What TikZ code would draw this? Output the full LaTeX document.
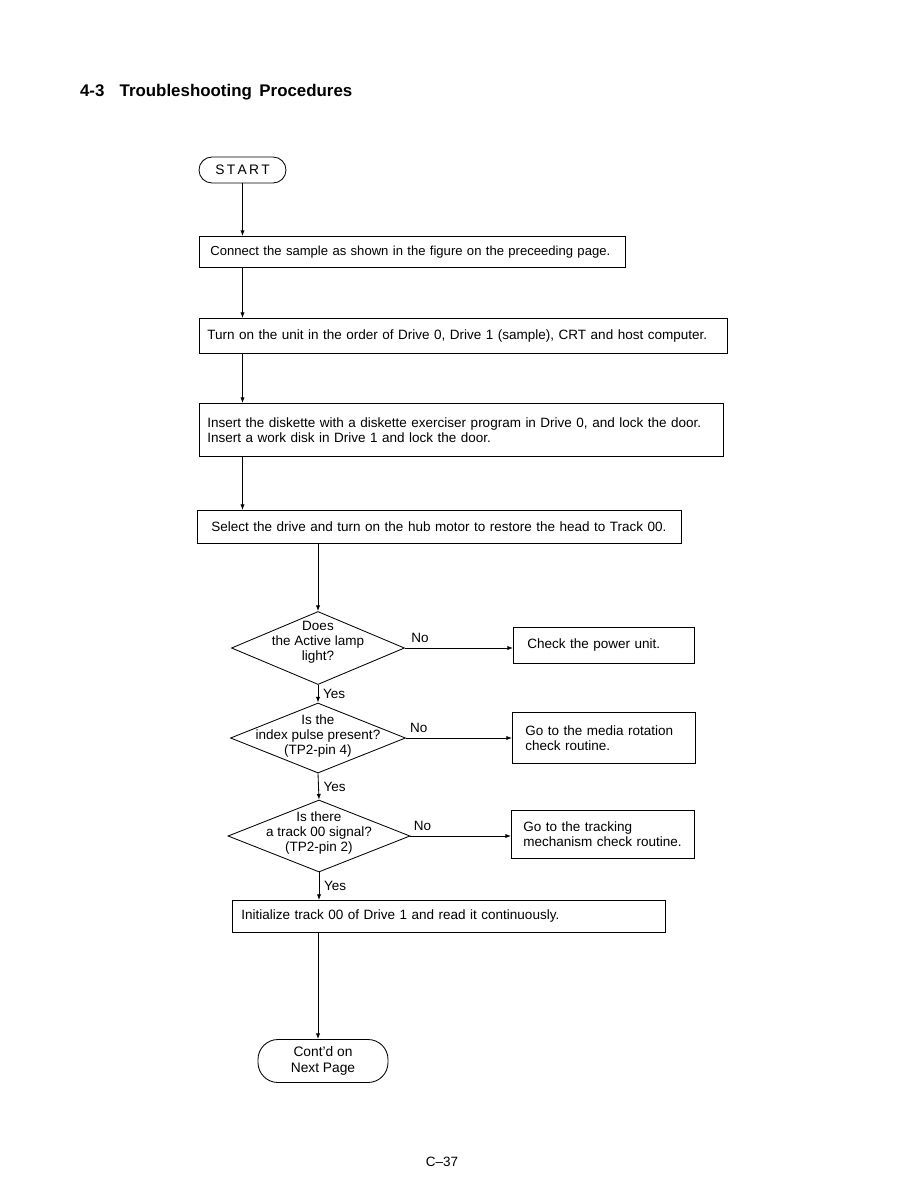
\documentclass[tikz,border=0pt]{standalone}
\usepackage{fontspec}
\setmainfont{Liberation Sans}
\usetikzlibrary{shapes.geometric,arrows.meta}

\tikzset{
  procbox/.style={draw, anchor=north west, align=left, inner ysep=0pt,
                  font=\fontsize{9.6}{10.8}\selectfont},
  termbox/.style={draw, align=center, font=\fontsize{9.8}{11.2}\selectfont},
  decision/.style={draw, diamond, inner sep=0pt},
  qtext/.style={align=center, font=\fontsize{9.6}{10.8}\selectfont},
  answer/.style={font=\fontsize{9.6}{10.8}\selectfont},
}

\begin{document}
\begin{tikzpicture}[x=0.025cm, y=-0.025cm, >={Latex[length=4pt,width=3pt]},
                    line width=0.6pt]
  \useasboundingbox (0,0) rectangle (899,1197);

  \node (title) [anchor=base west, font=\fontsize{12}{14}\bfseries\selectfont]
    at (75,96) {4-3\hspace{0.9em}Troubleshooting\hspace{0.45em}Procedures};

  \node (start) [termbox, rounded corners=0.325cm, minimum width=2.175cm,
                 minimum height=0.65cm] at (242.5,170) {S\,T\,A\,R\,T};

  \node (conn) [procbox, text width=10.1cm, inner xsep=0.275cm,
                minimum height=0.775cm, font=\fontsize{9.3}{10.8}\selectfont] at (199,236)
    {Connect the sample as shown in the figure on the preceeding page.};
  \node (turnon) [procbox, text width=12.8cm, inner xsep=0.2cm,
                  minimum height=0.875cm] at (199,318)
    {Turn on the unit in the order of Drive 0, Drive 1 (sample), CRT and host computer.};
  \node (insert) [procbox, text width=12.7cm, inner xsep=0.2cm,
                  minimum height=1.325cm] at (199,403)
    {Insert the diskette with a diskette exerciser program in Drive 0, and lock the door.\\
     Insert a work disk in Drive 1 and lock the door.};
  \node (select) [procbox, text width=11.4cm, inner xsep=0.35cm,
                  minimum height=0.825cm] at (197,510)
    {Select the drive and turn on the hub motor to restore the head to Track 00.};

  % decisions
  \node (d1) [decision, minimum width=4.325cm, minimum height=1.825cm] at (318,648) {};
  \node (q1) [qtext] at (318,642) {Does\\the Active lamp\\light?};
  \node (d2) [decision, minimum width=4.375cm, minimum height=1.75cm] at (318,738) {};
  \node (q2) [qtext] at (318,736) {Is the\\index pulse present?\\(TP2-pin 4)};
  \node (d3) [decision, minimum width=4.55cm, minimum height=1.8cm] at (319,836) {};
  \node (q3) [qtext] at (319,833) {Is there\\a track 00 signal?\\(TP2-pin 2)};

  \node (power) [procbox, text width=3.825cm, inner xsep=0.35cm,
                 minimum height=0.9cm] at (513,627) {Check the power unit.};
  \node (media) [procbox, text width=3.925cm, inner xsep=0.325cm,
                 minimum height=1.275cm] at (512,712)
    {Go to the media rotation\\check routine.};
  \node (track) [procbox, text width=3.975cm, inner xsep=0.3cm,
                 minimum height=1.2cm] at (511,810)
    {Go to the tracking\\mechanism check routine.};

  \node (init) [procbox, text width=10.375cm, inner xsep=0.225cm,
                minimum height=0.8cm] at (232,900)
    {Initialize track 00 of Drive 1 and read it continuously.};

  \node (cont) [termbox, rounded corners=0.5cm, minimum width=3.25cm,
                minimum height=1.075cm] at (323,1061) {Cont'd on\\Next Page};

  \node (page) [font=\fontsize{9.6}{10.8}\selectfont] at (442,1162) {C--37};

  % main flow
  \draw[->] (start) -- (start |- conn.north);
  \draw[->] (conn.south -| start) -- (turnon.north -| start);
  \draw[->] (turnon.south -| start) -- (insert.north -| start);
  \draw[->] (insert.south -| start) -- (select.north -| start);
  \draw[->] (select.south -| d1) -- (d1.north);
  \draw[->] (d1.south) -- node[answer, right] {Yes} (d2.north);
  \draw[->] (d2.south) -- node[answer, right] {Yes} (d3.north);
  \draw[->] (d3.south) -- node[answer, right] {Yes} (init.north -| d3);
  \draw[->] (init.south -| d1) -- (cont.north -| d1);

  % no branches
  \draw[->] (d1.east) -- node[answer, above, pos=0.14] {No} (d1.east -| power.west);
  \draw[->] (d2.east) -- node[answer, above, pos=0.12] {No} (d2.east -| media.west);
  \draw[->] (d3.east) -- node[answer, above, pos=0.12] {No} (d3.east -| track.west);
\end{tikzpicture}
\end{document}
